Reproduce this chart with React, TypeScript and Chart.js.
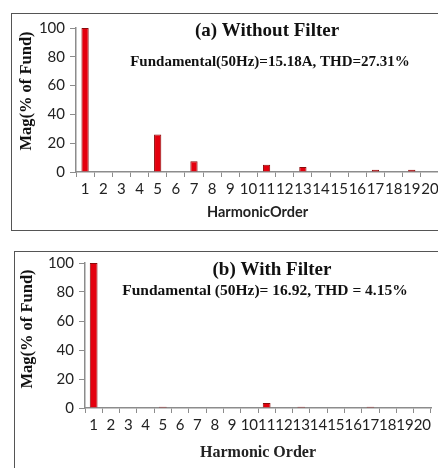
import React, { useEffect, useRef } from "react";
import { Chart, registerables } from "chart.js";

Chart.register(...registerables);

const harmonicOrders = ["1", "2", "3", "4", "5", "6", "7", "8", "9", "10", "11", "12", "13", "14", "15", "16", "17", "18", "19", "20"];
const withoutFilter = [100, 0, 0, 0, 26, 0, 7.5, 0, 0, 0, 5, 0, 3.5, 0, 0, 0, 1.5, 0, 1.5, 0];
const withFilter = [100, 0, 0, 0, 0.8, 0, 0, 0, 0, 0, 3.5, 0, 0.8, 0, 0, 0, 0.8, 0, 0, 0];
const yTicks = [0, 20, 40, 60, 80, 100];
const yTitle = "Mag(% of Fund)";
const titleA = "(a) Without Filter";
const subtitleA = "Fundamental(50Hz)=15.18A, THD=27.31%";
const titleB = "(b) With Filter";
const subtitleB = "Fundamental (50Hz)= 16.92, THD = 4.15%";
const xTitleA = "HarmonicOrder";
const xTitleB = "Harmonic Order";

type TextItem = { text: string; x: number; y: number; font: string; rotate?: boolean };

const overlayText = {
  id: "overlayText",
  afterDraw(chart: any, _args: any, opts: any) {
    const ctx = chart.ctx;
    for (const t of (opts.items || []) as TextItem[]) {
      ctx.save();
      ctx.font = t.font;
      ctx.fillStyle = "#111";
      ctx.textAlign = "center";
      ctx.textBaseline = "middle";
      ctx.translate(t.x, t.y);
      if (t.rotate) ctx.rotate(-Math.PI / 2);
      ctx.fillText(t.text, 0, 0);
      ctx.restore();
    }
  },
};

type Cfg = {
  data: number[];
  pad: { top: number; right: number; left: number; bottom: number };
  yWidth: number;
  xHeight: number;
  barPct: number;
  xTitle: string;
  xTitleFont: any;
  xTitlePadBottom: number;
  items: TextItem[];
};

function HarmonicChart({ cfg }: { cfg: Cfg }) {
  const ref = useRef<HTMLCanvasElement>(null);
  useEffect(() => {
    if (!ref.current) return;
    const chart = new Chart(ref.current, {
      type: "bar",
      data: {
        labels: harmonicOrders,
        datasets: [
          {
            data: cfg.data,
            backgroundColor: "#e4000e",
            borderColor: "#8a0a0a",
            borderWidth: 1,
            barPercentage: cfg.barPct,
            categoryPercentage: 1,
          },
        ],
      },
      options: {
        animation: false,
        responsive: false,
        devicePixelRatio: 1,
        layout: { padding: cfg.pad },
        plugins: {
          legend: { display: false },
          tooltip: { enabled: false },
          overlayText: { items: cfg.items },
        } as any,
        scales: {
          x: {
            offset: true,
            grid: {
              offset: true,
              drawOnChartArea: false,
              drawTicks: true,
              tickLength: 5,
              tickColor: "#8c8c8c",
            },
            border: { display: true, color: "#8c8c8c", width: 1.5 },
            ticks: {
              autoSkip: false,
              maxRotation: 0,
              padding: 3,
              color: "#222",
              font: { family: "Lato", size: 15 },
            },
            title: {
              display: true,
              text: cfg.xTitle,
              color: "#222",
              font: cfg.xTitleFont,
              padding: { top: 0, bottom: cfg.xTitlePadBottom },
            },
            afterFit: (s: any) => {
              s.height = cfg.xHeight;
            },
          },
          y: {
            min: 0,
            max: 100,
            afterBuildTicks: (s: any) => {
              s.ticks = yTicks.map((v) => ({ value: v }));
            },
            grid: {
              drawOnChartArea: false,
              drawTicks: true,
              tickLength: 6,
              tickColor: "#8c8c8c",
            },
            border: { display: true, color: "#8c8c8c", width: 1.5 },
            ticks: {
              padding: 5,
              color: "#222",
              font: { family: "Lato", size: 15 },
            },
            afterFit: (s: any) => {
              s.width = cfg.yWidth;
            },
          },
        },
      },
      plugins: [overlayText],
    });
    return () => chart.destroy();
  }, []);
  return <canvas ref={ref} width={460} height={234} style={{ width: 460, height: 234, display: "block" }} />;
}

const cfgA: Cfg = {
  data: withoutFilter,
  pad: { top: 28, right: 21, left: 0, bottom: 0 },
  yWidth: 76,
  xHeight: 62,
  barPct: 0.4,
  xTitle: xTitleA,
  xTitleFont: { family: "Lato", size: 14.5, weight: "bold" },
  xTitlePadBottom: 13,
  items: [
    { text: titleA, x: 267, y: 31, font: "bold 19px 'Liberation Serif'" },
    { text: subtitleA, x: 270, y: 62, font: "bold 15px 'Liberation Serif'" },
    { text: yTitle, x: 27, y: 91, font: "bold 16.5px 'Liberation Serif'", rotate: true },
  ],
};

const cfgB: Cfg = {
  data: withFilter,
  pad: { top: 29, right: 29, left: 0, bottom: 0 },
  yWidth: 85,
  xHeight: 60,
  barPct: 0.45,
  xTitle: xTitleB,
  xTitleFont: { family: "Liberation Serif", size: 16, weight: "bold" },
  xTitlePadBottom: 6,
  items: [
    { text: titleB, x: 272, y: 36, font: "bold 19px 'Liberation Serif'" },
    { text: subtitleB, x: 265, y: 57, font: "bold 15.5px 'Liberation Serif'" },
    { text: yTitle, x: 28, y: 95, font: "bold 16.5px 'Liberation Serif'", rotate: true },
  ],
};

export default function App() {
  return (
    <div style={{ position: "fixed", left: 0, top: 0, width: 438, height: 468, overflow: "hidden", background: "#fff" }}>
      <div style={{ position: "absolute", left: 0, top: 0 }}>
        <HarmonicChart cfg={cfgA} />
      </div>
      <div style={{ position: "absolute", left: 0, top: 234 }}>
        <HarmonicChart cfg={cfgB} />
      </div>
      <div style={{ position: "absolute", left: 11, top: 13, width: 460, height: 216, border: "1.5px solid #555", pointerEvents: "none" }} />
      <div style={{ position: "absolute", left: 14, top: 251, width: 460, height: 300, border: "1.5px solid #555", pointerEvents: "none" }} />
    </div>
  );
}
